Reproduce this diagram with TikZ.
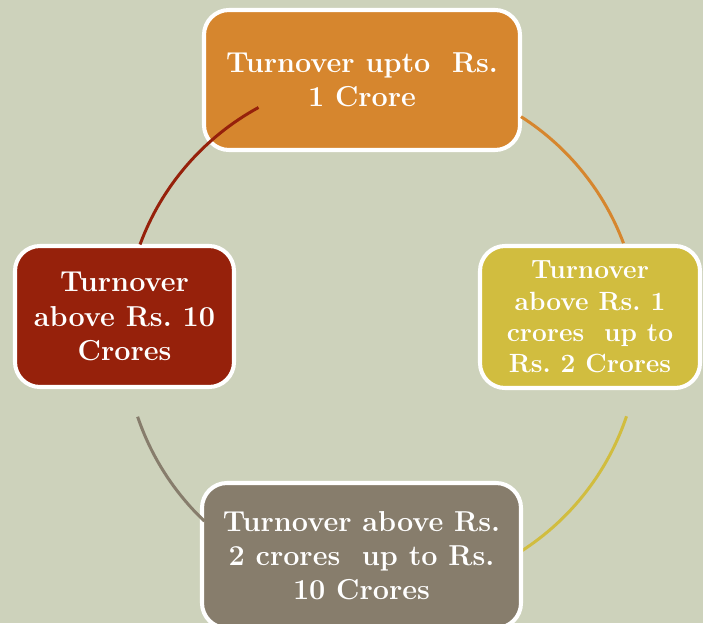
\documentclass[tikz,border=0pt]{standalone}
\usetikzlibrary{calc}

\definecolor{bgcol}{HTML}{CDD2BB}
\definecolor{orangebox}{HTML}{D6862E}
\definecolor{yellowbox}{HTML}{D1BD3F}
\definecolor{greybox}{HTML}{877D6C}
\definecolor{redbox}{HTML}{96210B}

\tikzset{
	stage/.style = {draw = white, line width = 2.3pt, rounded corners = 0.5cm, text = white, align = center, inner sep = 0pt, font = \frenchspacing\bfseries\fontsize{16.4}{19.4}\selectfont},
	link/.style = {line width = 1.7pt}
}

\begin{document}
\begin{tikzpicture}
	\fill [bgcol] (0,0) rectangle (14.06,12.46);
	\useasboundingbox (0,0) rectangle (14.06,12.46);
	% centre of the cycle
	\coordinate (c) at (7.64,5.78);
	\coordinate (a1) at ($(c)+(57.4:5.16)$);
	\coordinate (a2) at ($(c)+(-18.6:5.16)$);
	\coordinate (a3) at ($(c)+(198.7:5.16)$);
	\coordinate (a4) at ($(c)+(159.7:5.16)$);
	\node [stage, fill = orangebox, minimum width = 6.32cm, minimum height = 2.8cm] (upto1) at (7.24,10.86) {Turnover upto~ Rs.\\1 Crore};
	\draw [link, orangebox] (a1) arc [start angle = 57.4, end angle = 20.6, radius = 5.16];
	\node [stage, fill = yellowbox, minimum width = 4.4cm, minimum height = 2.84cm, font = \frenchspacing\bfseries\fontsize{15}{17.8}\selectfont] (upto2) at (11.8,6.12) {Turnover\\above Rs. 1\\crores~ up to\\Rs. 2 Crores};
	\draw [link, yellowbox] (a2) arc [start angle = -18.6, end angle = -57.2, radius = 5.16];
	\node [stage, fill = greybox, minimum width = 6.38cm, minimum height = 2.9cm] (upto10) at (7.23,1.35) {Turnover above Rs.\\2 crores~ up to Rs.\\10 Crores};
	\draw [link, greybox] (a3) arc [start angle = 198.7, end angle = 226.5, radius = 5.16];
	\node [stage, fill = redbox, minimum width = 4.38cm, minimum height = 2.82cm] (above10) at (2.49,6.13) {Turnover\\above Rs. 10\\Crores};
	\draw [link, redbox] (a4) arc [start angle = 159.7, end angle = 118.6, radius = 5.16];
\end{tikzpicture}
\end{document}
